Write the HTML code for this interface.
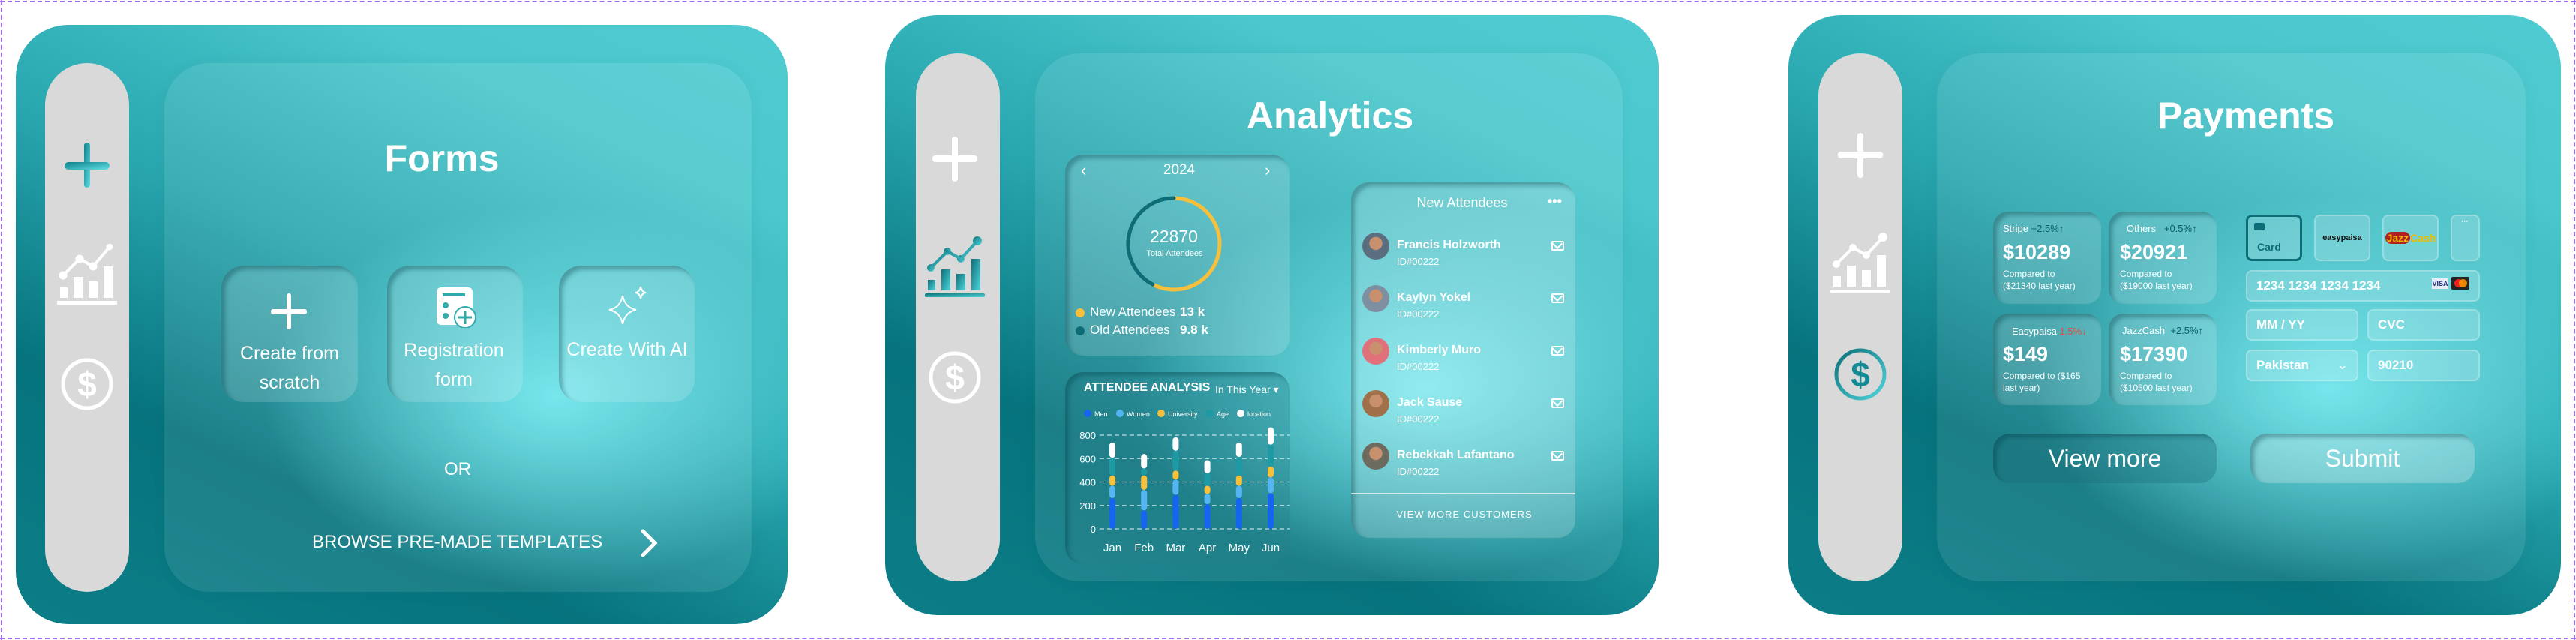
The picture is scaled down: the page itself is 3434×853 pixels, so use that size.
<!DOCTYPE html>
<html><head><meta charset="utf-8">
<style>
*{box-sizing:border-box;margin:0;padding:0}
body{width:3434px;height:853px;background:#fff;position:relative;overflow:hidden;font-family:"Liberation Sans Narrow","Liberation Sans",sans-serif;color:#fff}
.dash{position:absolute;left:0;width:3434px;height:0;border-top:2px dashed #9b6cf0}
.dashv{position:absolute;top:0;height:853px;width:0;border-left:2px dashed #9b6cf0}
.panel{position:absolute;top:20px;height:800px;border-radius:70px;overflow:hidden;
background:radial-gradient(ellipse 38% 32% at 70% 62%,rgba(110,232,238,.95) 0%,rgba(110,232,238,0) 100%),
linear-gradient(25deg,#0c7e87 0%,#06737d 28%,#2aa8b0 55%,#4ac8cd 80%,#4fcbd0 100%)}
.side{position:absolute;background:#d9d9d9;border-radius:56px}
.inner{position:absolute;border-radius:60px;background:rgba(255,255,255,.09);box-shadow:0 0 20px rgba(0,0,0,.04)}
.title{position:absolute;font-weight:bold;font-size:50px;transform:translateX(-50%);white-space:nowrap}
.card{position:absolute;border-radius:30px;background:rgba(255,255,255,.16);box-shadow:inset 5px 5px 6px rgba(0,60,70,.35)}
.abs{position:absolute;white-space:nowrap}
.inp{position:absolute;border-radius:8px;background:rgba(255,255,255,.18);border:2px solid rgba(255,255,255,.25);font-size:17px;font-weight:bold;padding-left:12px;display:flex;align-items:center}
</style></head><body>
<div class="dash" style="top:1px"></div>
<div class="dash" style="top:850px"></div>
<div class="dashv" style="left:1px"></div>
<div class="dashv" style="left:3431px"></div>

<!-- PANEL 1 FORMS -->
<div class="panel" style="left:21px;top:33px;width:1029px;height:799px"></div>
<div class="side" style="left:60px;top:84px;width:112px;height:705px"></div>
<svg class="abs" style="left:86px;top:190px" width="60" height="60"><defs><linearGradient id="pg" x1="0" y1="0" x2="1" y2="1"><stop offset="0" stop-color="#0e7f88"/><stop offset="1" stop-color="#5fe0e6"/></linearGradient></defs><rect x="26" y="0" width="8" height="60" rx="4" fill="url(#pg)"/><rect x="0" y="26" width="60" height="10" rx="5" fill="url(#pg)"/></svg>
<svg class="abs" style="left:76px;top:325px" width="80" height="82"><g fill="#fff" stroke="#fff"><rect x="4" y="58" width="10" height="14" stroke="none"/><rect x="22" y="44" width="12" height="28" stroke="none"/><rect x="42" y="50" width="12" height="22" stroke="none"/><rect x="62" y="30" width="12" height="42" stroke="none"/><rect x="0" y="76" width="80" height="5" stroke="none"/><polyline points="8,42 30,20 48,30 70,4" fill="none" stroke-width="4"/><circle cx="8" cy="42" r="5"/><circle cx="30" cy="20" r="5"/><circle cx="48" cy="30" r="5"/><circle cx="70" cy="4" r="4"/></g></svg>
<svg class="abs" style="left:80px;top:476px" width="72" height="72"><circle cx="36" cy="36" r="32" fill="none" stroke="#fff" stroke-width="5"/><text x="36" y="52" text-anchor="middle" font-size="46" font-weight="bold" fill="#fff" font-family="Liberation Sans">$</text></svg>
<div class="inner" style="left:219px;top:84px;width:783px;height:705px"></div>
<div class="title" style="left:589px;top:182px">Forms</div>
<div class="card" style="left:295px;top:354px;width:182px;height:182px"></div>
<div class="card" style="left:516px;top:354px;width:181px;height:182px"></div>
<div class="card" style="left:745px;top:354px;width:181px;height:182px"></div>
<svg class="abs" style="left:361px;top:391px" width="48" height="48"><rect x="21" y="0" width="6" height="48" rx="3" fill="#fff"/><rect x="0" y="21" width="48" height="7" rx="3" fill="#fff"/></svg>
<div class="abs" style="left:386px;top:452px;font-size:25px;text-align:center;transform:translateX(-50%);line-height:39px">Create from<br>scratch</div>
<svg class="abs" style="left:582px;top:383px" width="54" height="54"><rect x="0" y="0" width="48" height="50" rx="6" fill="#fff"/><rect x="8" y="8" width="30" height="4" fill="#3aa"/><circle cx="12" cy="24" r="4" fill="#3aa"/><circle cx="12" cy="38" r="4" fill="#3aa"/><circle cx="38" cy="40" r="14" fill="#fff" stroke="#3aa" stroke-width="2"/><path d="M38 31v18M29 40h18" stroke="#3aa" stroke-width="3"/></svg>
<div class="abs" style="left:605px;top:448px;font-size:25px;text-align:center;transform:translateX(-50%);line-height:39px">Registration<br>form</div>
<svg class="abs" style="left:808px;top:380px" width="60" height="54"><path d="M22 14 Q25 30 40 33 Q25 36 22 52 Q19 36 4 33 Q19 30 22 14Z" fill="none" stroke="#fff" stroke-width="2"/><path d="M46 2 Q47 9 53 10 Q47 11 46 18 Q45 11 39 10 Q45 9 46 2Z" fill="none" stroke="#fff" stroke-width="2"/></svg>
<div class="abs" style="left:836px;top:452px;font-size:25px;transform:translateX(-50%)">Create With AI</div>
<div class="abs" style="left:610px;top:612px;font-size:24px;transform:translateX(-50%)">OR</div>
<div class="abs" style="left:416px;top:709px;font-size:24px">BROWSE PRE-MADE TEMPLATES</div>
<svg class="abs" style="left:853px;top:705px" width="24" height="38"><polyline points="4,3 20,19 4,35" fill="none" stroke="#fff" stroke-width="5" stroke-linecap="round"/></svg>

<!-- PANEL 2 ANALYTICS -->
<div class="panel" style="left:1180px;width:1031px"></div>
<div class="side" style="left:1221px;top:71px;width:112px;height:704px"></div>
<svg class="abs" style="left:1243px;top:182px" width="60" height="60"><rect x="26" y="0" width="8" height="60" rx="4" fill="#fff"/><rect x="0" y="25" width="60" height="9" rx="4" fill="#fff"/></svg>
<svg class="abs" style="left:1233px;top:315px" width="80" height="82"><defs><linearGradient id="cg" x1="0" y1="0" x2="1" y2="1"><stop offset="0" stop-color="#0e6f78"/><stop offset="1" stop-color="#4fd5dc"/></linearGradient></defs><g fill="url(#cg)"><rect x="4" y="58" width="10" height="14"/><rect x="22" y="44" width="12" height="28"/><rect x="42" y="50" width="12" height="22"/><rect x="62" y="30" width="12" height="42"/><rect x="0" y="76" width="80" height="5" rx="2"/><circle cx="8" cy="42" r="5"/><circle cx="30" cy="20" r="5"/><circle cx="48" cy="30" r="5"/><circle cx="70" cy="6" r="6"/></g><polyline points="8,42 30,20 48,30 70,6" fill="none" stroke="url(#cg)" stroke-width="4"/></svg>
<svg class="abs" style="left:1237px;top:467px" width="72" height="72"><circle cx="36" cy="36" r="32" fill="none" stroke="#fff" stroke-width="5"/><text x="36" y="52" text-anchor="middle" font-size="46" font-weight="bold" fill="#fff" font-family="Liberation Sans">$</text></svg>
<div class="inner" style="left:1380px;top:71px;width:783px;height:704px"></div>
<div class="title" style="left:1773px;top:125px">Analytics</div>

<div class="card" style="left:1420px;top:206px;width:299px;height:268px;border-radius:24px"></div>
<div class="abs" style="left:1441px;top:214px;font-size:22px">‹</div>
<div class="abs" style="left:1686px;top:214px;font-size:22px">›</div>
<div class="abs" style="left:1572px;top:216px;font-size:19px;transform:translateX(-50%)">2024</div>
<svg id="donut" class="abs" style="left:1420px;top:206px" width="299" height="268"></svg>
<div class="abs" style="left:1565px;top:302px;font-size:23px;transform:translateX(-50%)">22870</div>
<div class="abs" style="left:1566px;top:332px;font-size:11px;transform:translateX(-50%)">Total Attendees</div>
<div class="abs" style="left:1434px;top:411px;width:12px;height:12px;border-radius:6px;background:#f8c03a"></div>
<div class="abs" style="left:1453px;top:406px;font-size:17px">New Attendees</div>
<div class="abs" style="left:1573px;top:406px;font-size:17px;font-weight:bold">13 k</div>
<div class="abs" style="left:1434px;top:435px;width:12px;height:12px;border-radius:6px;background:#0e6c76"></div>
<div class="abs" style="left:1453px;top:430px;font-size:17px">Old Attendees</div>
<div class="abs" style="left:1573px;top:430px;font-size:17px;font-weight:bold">9.8 k</div>

<div class="card" style="left:1420px;top:496px;width:299px;height:256px;border-radius:24px;background:rgba(40,130,140,.35)"></div>
<div class="abs" style="left:1445px;top:508px;font-size:16px;font-weight:bold">ATTENDEE ANALYSIS</div>
<div class="abs" style="left:1620px;top:511px;font-size:14px">In This Year ▾</div>
<svg id="bars" class="abs" style="left:1420px;top:496px" width="299" height="256"></svg>

<div class="card" style="left:1801px;top:243px;width:299px;height:474px;border-radius:24px;background:rgba(255,255,255,.2)"></div>
<div class="abs" style="left:1949px;top:260px;font-size:18px;transform:translateX(-50%)">New Attendees</div>
<div class="abs" style="left:2063px;top:258px;font-size:18px;font-weight:bold">•••</div>
<div id="rows"></div>
<div class="abs" style="left:1801px;top:657px;width:299px;height:2px;background:rgba(255,255,255,.7)"></div>
<div class="abs" style="left:1952px;top:678px;font-size:13px;letter-spacing:1px;transform:translateX(-50%)">VIEW MORE CUSTOMERS</div>

<!-- PANEL 3 PAYMENTS -->
<div class="panel" style="left:2384px;width:1030px"></div>
<div class="side" style="left:2424px;top:71px;width:112px;height:704px"></div>
<svg class="abs" style="left:2450px;top:177px" width="60" height="60"><rect x="26" y="0" width="8" height="60" rx="4" fill="#fff"/><rect x="0" y="25" width="60" height="9" rx="4" fill="#fff"/></svg>
<svg class="abs" style="left:2440px;top:310px" width="80" height="82"><g fill="#fff"><rect x="4" y="58" width="10" height="14"/><rect x="22" y="44" width="12" height="28"/><rect x="42" y="50" width="12" height="22"/><rect x="62" y="30" width="12" height="42"/><rect x="0" y="76" width="80" height="5" rx="2"/><circle cx="8" cy="42" r="5"/><circle cx="30" cy="20" r="5"/><circle cx="48" cy="30" r="5"/><circle cx="70" cy="6" r="6"/></g><polyline points="8,42 30,20 48,30 70,6" fill="none" stroke="#fff" stroke-width="4"/></svg>
<svg class="abs" style="left:2444px;top:463px" width="72" height="72"><circle cx="36" cy="36" r="32" fill="none" stroke="url(#cg)" stroke-width="5"/><text x="36" y="52" text-anchor="middle" font-size="46" font-weight="bold" fill="#138a93" font-family="Liberation Sans">$</text></svg>
<div class="inner" style="left:2582px;top:71px;width:785px;height:704px"></div>
<div class="title" style="left:2994px;top:125px">Payments</div>

<div class="card" style="left:2657px;top:282px;width:144px;height:123px;border-radius:20px"></div>
<div class="card" style="left:2811px;top:282px;width:144px;height:123px;border-radius:20px"></div>
<div class="card" style="left:2657px;top:418px;width:144px;height:122px;border-radius:20px"></div>
<div class="card" style="left:2811px;top:418px;width:144px;height:122px;border-radius:20px"></div>
<div class="abs" style="left:2670px;top:297px;font-size:13px">Stripe <span style="color:#0b5f66">+2.5%↑</span></div>
<div class="abs" style="left:2670px;top:321px;font-size:27px;font-weight:bold">$10289</div>
<div class="abs" style="left:2670px;top:357px;font-size:12px;line-height:16px">Compared to<br>($21340 last year)</div>
<div class="abs" style="left:2835px;top:297px;font-size:13px">Others &nbsp; <span style="color:#0b5f66">+0.5%↑</span></div>
<div class="abs" style="left:2826px;top:321px;font-size:27px;font-weight:bold">$20921</div>
<div class="abs" style="left:2826px;top:357px;font-size:12px;line-height:16px">Compared to<br>($19000 last year)</div>
<div class="abs" style="left:2682px;top:434px;font-size:13px">Easypaisa <span style="color:#e64a3c">1.5%↓</span></div>
<div class="abs" style="left:2670px;top:457px;font-size:27px;font-weight:bold">$149</div>
<div class="abs" style="left:2670px;top:493px;font-size:12px;line-height:16px">Compared to ($165<br>last year)</div>
<div class="abs" style="left:2829px;top:433px;font-size:13px">JazzCash &nbsp;<span style="color:#0b5f66">+2.5%↑</span></div>
<div class="abs" style="left:2826px;top:457px;font-size:27px;font-weight:bold">$17390</div>
<div class="abs" style="left:2826px;top:493px;font-size:12px;line-height:16px">Compared to<br>($10500 last year)</div>

<div class="inp" style="left:2994px;top:286px;width:75px;height:62px;border:3px solid #0d6e77;align-items:flex-end;padding-bottom:8px;color:#0d6e77;font-size:14px">Card</div>
<div class="abs" style="left:3005px;top:297px;width:14px;height:10px;background:#0d6e77;border-radius:2px"></div>
<div class="inp" style="left:3085px;top:286px;width:75px;height:62px;justify-content:center;padding:0;color:#111;font-size:11px">easypaisa</div>
<div class="inp" style="left:3176px;top:286px;width:75px;height:62px;justify-content:center;padding:0;color:#f2b800;font-size:14px"><span style="background:#b0201e;border-radius:10px;padding:0 2px">Jazz</span>Cash</div>
<div class="inp" style="left:3267px;top:286px;width:39px;height:62px;align-items:flex-start;padding:2px 0 0 12px;font-size:10px">···</div>
<div class="inp" style="left:2994px;top:360px;width:312px;height:42px">1234 1234 1234 1234</div>
<div class="abs" style="left:3242px;top:371px;width:22px;height:14px;background:#e8eef8;color:#1a2a80;font-size:9px;font-weight:bold;text-align:center;line-height:14px">VISA</div>
<div class="abs" style="left:3268px;top:369px;width:24px;height:17px;background:#222;border-radius:2px"><div style="position:absolute;left:4px;top:3px;width:11px;height:11px;border-radius:6px;background:#e22"></div><div style="position:absolute;left:10px;top:3px;width:11px;height:11px;border-radius:6px;background:#f90;opacity:.85"></div></div>
<div class="inp" style="left:2994px;top:412px;width:150px;height:42px">MM / YY</div>
<div class="inp" style="left:3156px;top:412px;width:150px;height:42px">CVC</div>
<div class="inp" style="left:2994px;top:466px;width:150px;height:42px">Pakistan<span style="position:absolute;right:12px;font-weight:normal">⌄</span></div>
<div class="inp" style="left:3156px;top:466px;width:150px;height:42px">90210</div>
<div class="card" style="left:2657px;top:578px;width:298px;height:66px;border-radius:22px;background:rgba(30,110,120,.35);display:flex;align-items:center;justify-content:center;font-size:32px">View more</div>
<div class="card" style="left:3000px;top:578px;width:299px;height:66px;border-radius:22px;background:rgba(255,255,255,.25);display:flex;align-items:center;justify-content:center;font-size:32px">Submit</div>

<script>
// Donut data
const donutLabels=["New Attendees","Old Attendees"];
const donutValues=[13,9.8];
// Bar chart data
const months=["Jan","Feb","Mar","Apr","May","Jun"];
const seriesNames=["Men","Women","University","Age","location"];
const men=[263,158,291,211,263,305];
const women=[105,175,130,87,105,134];
const university=[88,123,77,70,88,94];
const age=[151,60,169,106,158,186];
const locationVals=[130,123,115,112,123,148];
const yTicks=[0,200,400,600,800];
// Attendee list
const names=["Francis Holzworth","Kaylyn Yokel","Kimberly Muro","Jack Sause","Rebekkah Lafantano"];
const ids=["ID#00222","ID#00222","ID#00222","ID#00222","ID#00222"];

const NS="http://www.w3.org/2000/svg";
function mk(parent,tag,attrs){const e=document.createElementNS(NS,tag);for(const k in attrs)e.setAttribute(k,attrs[k]);parent.appendChild(e);return e;}

// donut
(function(){
 const svg=document.getElementById('donut');
 const cx=145,cy=119,r=61,total=donutValues[0]+donutValues[1];
 const colors=["#f8c03a","#0e6c76"];
 let a0=0.04;
 donutValues.forEach((v,i)=>{
  const a1=a0+v/total*Math.PI*2-0.04;
  const x0=cx+r*Math.sin(a0),y0=cy-r*Math.cos(a0),x1=cx+r*Math.sin(a1),y1=cy-r*Math.cos(a1);
  const p=mk(svg,'path',{d:`M${x0} ${y0} A${r} ${r} 0 ${(a1-a0)>Math.PI?1:0} 1 ${x1} ${y1}`,fill:'none',stroke:colors[i],'stroke-width':5,'stroke-linecap':'round'});
  
  
  a0=a1+0.04;
 });
})();

// bars
(function(){
 const svg=document.getElementById('bars');
 const y0=209,yTop=84,maxV=800;
 const y=v=>y0-(v/maxV)*(y0-yTop);
 const x0=63,step=42.2;
 const x=i=>x0+i*step;
 const legendColors=["#1565f0","#55b5f2","#f8c03a","#1e9aa5","#ffffff"];
 const legX=[30,73,128,193,234];
 seriesNames.forEach((n,i)=>{
  const c=mk(svg,'circle',{cx:legX[i],cy:55,r:5,fill:legendColors[i]});
  
  
  const t=mk(svg,'text',{x:legX[i]+9,y:59,'font-size':9,fill:'#fff'});t.textContent=n;
  
  
 });
 yTicks.forEach(v=>{
  const l=mk(svg,'line',{x1:46,x2:299,y1:y(v),y2:y(v),stroke:'rgba(255,255,255,.7)','stroke-dasharray':'6 4','stroke-width':1.2});
  
  
  const t=mk(svg,'text',{x:41,y:y(v)+5,'font-size':13,fill:'#fff','text-anchor':'end'});t.textContent=v;
  
  
 });
 const series=[men,women,university,age,locationVals];
 months.forEach((m,i)=>{
  let acc=0;
  series.forEach((s,k)=>{
   const b=mk(svg,'rect',{x:x(i)-4,y:y(acc+s[i]),width:8,height:y(acc)-y(acc+s[i]),rx:4,fill:legendColors[k]});
   
   
   acc+=s[i];
  });
  const t=mk(svg,'text',{x:x(i),y:239,'font-size':15,fill:'#fff','text-anchor':'middle'});t.textContent=m;
  
  
 });
})();

// attendee rows
(function(){
 const wrap=document.getElementById('rows');
 const av=["#5b6e80","#7d8fa0","#e0707a","#a0704a","#6d6a60"];
 names.forEach((n,i)=>{
  const top=310+i*70;
  const a=document.createElement('div');a.className='abs';
  a.style.cssText=`left:1816px;top:${top}px;width:36px;height:36px;border-radius:18px;background:radial-gradient(circle at 50% 40%,#c9906e 0 30%,${av[i]} 32%)`;
  
  
  wrap.appendChild(a);
  const nm=document.createElement('div');nm.className='abs';
  nm.style.cssText=`left:1862px;top:${top+8}px;font-size:16px;font-weight:bold`;nm.textContent=n;
  
  
  wrap.appendChild(nm);
  const id=document.createElement('div');id.className='abs';
  id.style.cssText=`left:1862px;top:${top+31}px;font-size:13px`;id.textContent=ids[i];
  
  
  wrap.appendChild(id);
  const ml=document.createElement('div');ml.className='abs';
  ml.style.cssText=`left:2068px;top:${top+11}px;width:17px;height:13px;border:2px solid #fff;border-radius:2px`;
  ml.innerHTML='<div style="position:absolute;left:1px;top:-3px;width:10px;height:10px;border-right:2px solid #fff;border-bottom:2px solid #fff;transform:rotate(45deg)"></div>';
  
  
  wrap.appendChild(ml);
 });
})();
</script>
</body></html>
